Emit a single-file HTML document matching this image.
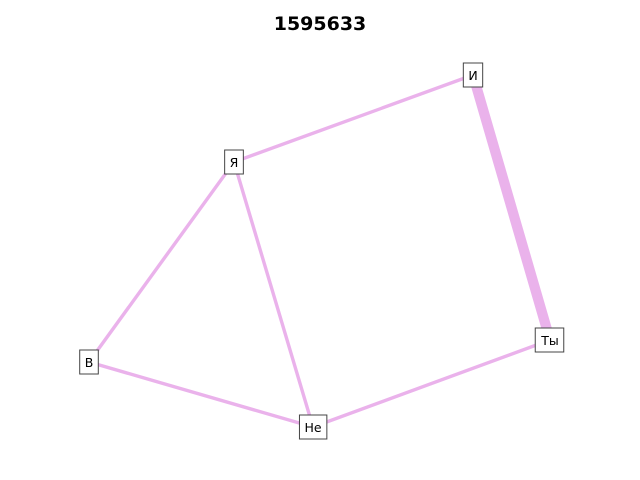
<!DOCTYPE html>
<html><head><meta charset="utf-8"><style>
body{margin:0;background:#fff;}
svg{display:block;font-family:"DejaVu Sans","Liberation Sans",sans-serif;}
</style></head><body>
<svg id="chart" width="640" height="480">
<text x="320" y="30" text-anchor="middle" font-size="19" font-weight="bold" fill="#000">1595633</text>
<g id="edges"></g><g id="nodes"></g>
</svg>
<script>
const nodeLabels = ["И", "Я", "В", "Не", "Ты"];
const nodeX = [473, 234, 89, 313, 550];
const nodeY = [75, 162, 362, 427, 340];
const edgeSource = [1, 0, 1, 1, 2, 3];
const edgeTarget = [0, 4, 2, 3, 3, 4];
const edgeWeight = [1, 3, 1, 1, 1, 1];

const ns = "http://www.w3.org/2000/svg";
const eg = document.getElementById("edges");
const ng = document.getElementById("nodes");
for (let i = 0; i < edgeSource.length; i++) {
  const a = edgeSource[i], b = edgeTarget[i];
  const l = document.createElementNS(ns, "line");
  l.setAttribute("x1", nodeX[a]); l.setAttribute("y1", nodeY[a]);
  l.setAttribute("x2", nodeX[b]); l.setAttribute("y2", nodeY[b]);
  l.setAttribute("stroke", "#eab2eb");
  l.setAttribute("stroke-width", 3.4 * edgeWeight[i]);
  
  
  eg.appendChild(l);
}
for (let i = 0; i < nodeLabels.length; i++) {
  const g = document.createElementNS(ns, "g");
  
  
  const t = document.createElementNS(ns, "text");
  t.setAttribute("x", nodeX[i]); t.setAttribute("y", nodeY[i] + 5);
  t.setAttribute("text-anchor", "middle"); t.setAttribute("font-size", "12.5");
  t.textContent = nodeLabels[i];
  ng.appendChild(g); g.appendChild(t);
  const bb = t.getBBox();
  const r = document.createElementNS(ns, "rect");
  r.setAttribute("x", bb.x - 5); r.setAttribute("y", nodeY[i] - 12);
  r.setAttribute("width", bb.width + 10); r.setAttribute("height", 24);
  r.setAttribute("fill", "#fff"); r.setAttribute("stroke", "#444");
  g.insertBefore(r, t);
}
</script>
</body></html>
